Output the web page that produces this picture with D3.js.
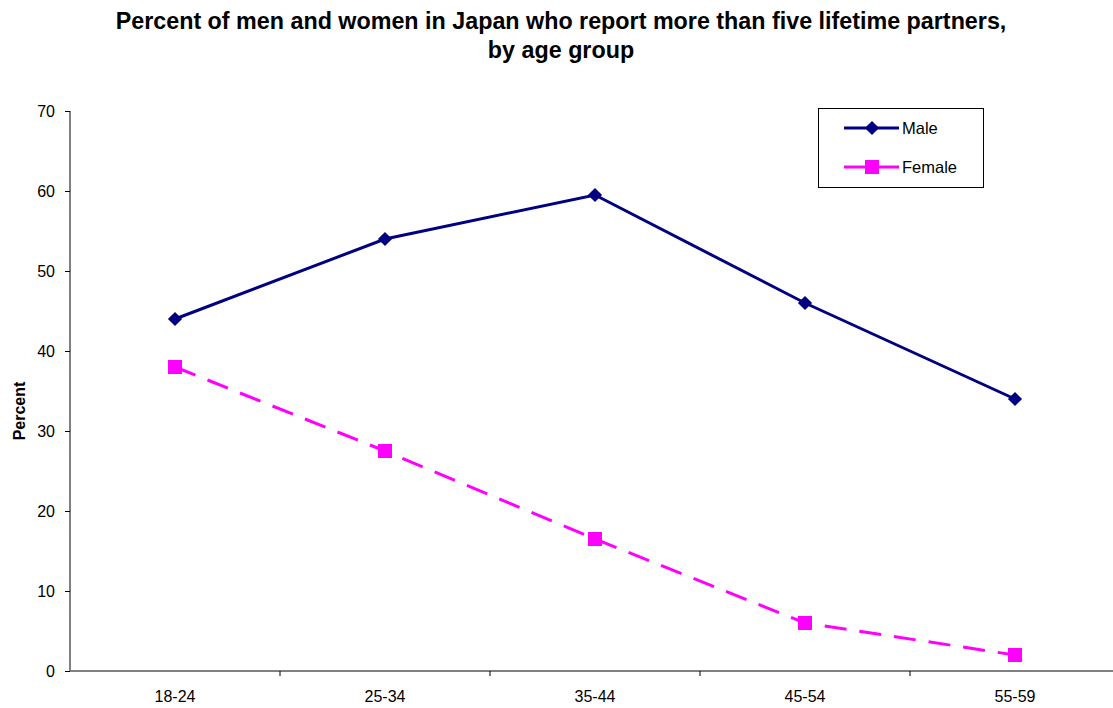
<!DOCTYPE html>
<html>
<head>
<meta charset="utf-8">
<script src="https://cdn.jsdelivr.net/npm/d3@7"></script>
<style>
  body { margin: 0; background: #fff; }
  svg { display: block; font-family: Arial, "Liberation Sans", sans-serif; }
</style>
</head>
<body>
<svg id="chart" width="1113" height="708"></svg>
<script>
const AGE_GROUPS = ['18-24', '25-34', '35-44', '45-54', '55-59'];
const MALE = [44, 54, 59.5, 46, 34];
const FEMALE = [38, 27.5, 16.5, 6, 2];
const Y_TICKS = [0, 10, 20, 30, 40, 50, 60, 70];
const TITLE = ['Percent of men and women in Japan who report more than five lifetime partners,', 'by age group'];

const svg = d3.select('#chart');
const margin = {left: 70, top: 111, right: -7, bottom: 37};
const width = 1113 - margin.left - margin.right;
const height = 708 - margin.top - margin.bottom;

const xScale = d3.scaleBand().domain(AGE_GROUPS).range([margin.left, margin.left + width]);
const yScale = d3.scaleLinear().domain([0, 70]).range([margin.top + height, margin.top]);
const cx = i => xScale(AGE_GROUPS[i]) + xScale.bandwidth() / 2;

// title
svg.append('g')
    .selectAll('text')
    .data(TITLE)
    .enter()
    .append('text')
    .attr('x', 561)
    .attr('y', (d, i) => 29 + i * 29)
    .attr('text-anchor', 'middle')
    .style('font-size', '23.3px')
    .style('font-weight', 'bold')
    .text(d => d);

// y axis
const yAxis = svg.append('g')
    .attr('transform', `translate(${margin.left},0)`)
    .call(d3.axisLeft(yScale).tickValues(Y_TICKS).tickSize(5).tickPadding(10));
yAxis.select('.domain').attr('stroke', '#808080').attr('stroke-width', 2).attr('d', `M0,${yScale(70)}V${yScale(0)}`);
yAxis.selectAll('.tick line').attr('stroke', '#000');
yAxis.selectAll('.tick text').style('font-size', '16px').attr('fill', '#000');

// x axis
const xAxis = svg.append('g')
    .attr('transform', `translate(0,${yScale(0)})`)
    .call(d3.axisBottom(xScale).tickSize(0).tickPadding(20));
xAxis.select('.domain').attr('stroke', '#808080').attr('stroke-width', 2).attr('d', `M${margin.left},0H1113`);
xAxis.selectAll('.tick text').style('font-size', '16px').attr('fill', '#000');
xAxis.selectAll('.sep')
    .data(AGE_GROUPS.slice(1))
    .enter()
    .append('line')
    .attr('x1', d => xScale(d)).attr('x2', d => xScale(d))
    .attr('y1', 0).attr('y2', 5)
    .attr('stroke', '#000');

// y label
svg.append('text')
    .attr('transform', `translate(25,${yScale(32.5)}) rotate(-90)`)
    .attr('text-anchor', 'middle')
    .style('font-size', '16px')
    .style('font-weight', 'bold')
    .text('Percent');

const line = d3.line()
    .x((d, i) => cx(i))
    .y(d => yScale(d));

svg.append('path')
    .attr('d', line(MALE))
    .attr('fill', 'none')
    .attr('stroke', '#000080')
    .attr('stroke-width', 3);

svg.append('path')
    .attr('d', line(FEMALE))
    .attr('fill', 'none')
    .attr('stroke', '#ff00ff')
    .attr('stroke-width', 3)
    .attr('stroke-dasharray', '22,13');

const diamond = d3.symbol().type(d3.symbolSquare).size(100);
svg.append('g')
    .selectAll('path')
    .data(MALE)
    .enter()
    .append('path')
    .attr('d', diamond)
    .attr('transform', (d, i) => `translate(${cx(i)},${yScale(d)}) rotate(45)`)
    .attr('fill', '#000080');

svg.append('g')
    .selectAll('rect')
    .data(FEMALE)
    .enter()
    .append('rect')
    .attr('x', (d, i) => cx(i) - 7)
    .attr('y', d => yScale(d) - 7)
    .attr('width', 14).attr('height', 14)
    .attr('fill', '#ff00ff');

// legend
const legend = svg.append('g').attr('transform', 'translate(818,108)');
legend.append('rect')
    .attr('x', 0.5).attr('y', 0.5)
    .attr('width', 165).attr('height', 79)
    .attr('fill', '#fff').attr('stroke', '#000');

const legendItems = [
    {name: 'Male', color: '#000080', marker: 'diamond'},
    {name: 'Female', color: '#ff00ff', marker: 'square'}
];
legendItems.forEach((item, i) => {
    const y = 20 + i * 39;
    legend.append('line')
        .attr('x1', 26).attr('x2', 81).attr('y1', y).attr('y2', y)
        .attr('stroke', item.color).attr('stroke-width', 3);
    if (item.marker === 'diamond') {
        legend.append('path')
            .attr('d', diamond)
            .attr('transform', `translate(54,${y}) rotate(45)`)
            .attr('fill', item.color);
    } else {
        legend.append('rect')
            .attr('x', 54 - 7).attr('y', y - 7)
            .attr('width', 14).attr('height', 14)
            .attr('fill', item.color);
    }
    legend.append('text')
        .attr('x', 84).attr('y', y + 6)
        .style('font-size', '16.5px')
        .text(item.name);
});
</script>
</body>
</html>
